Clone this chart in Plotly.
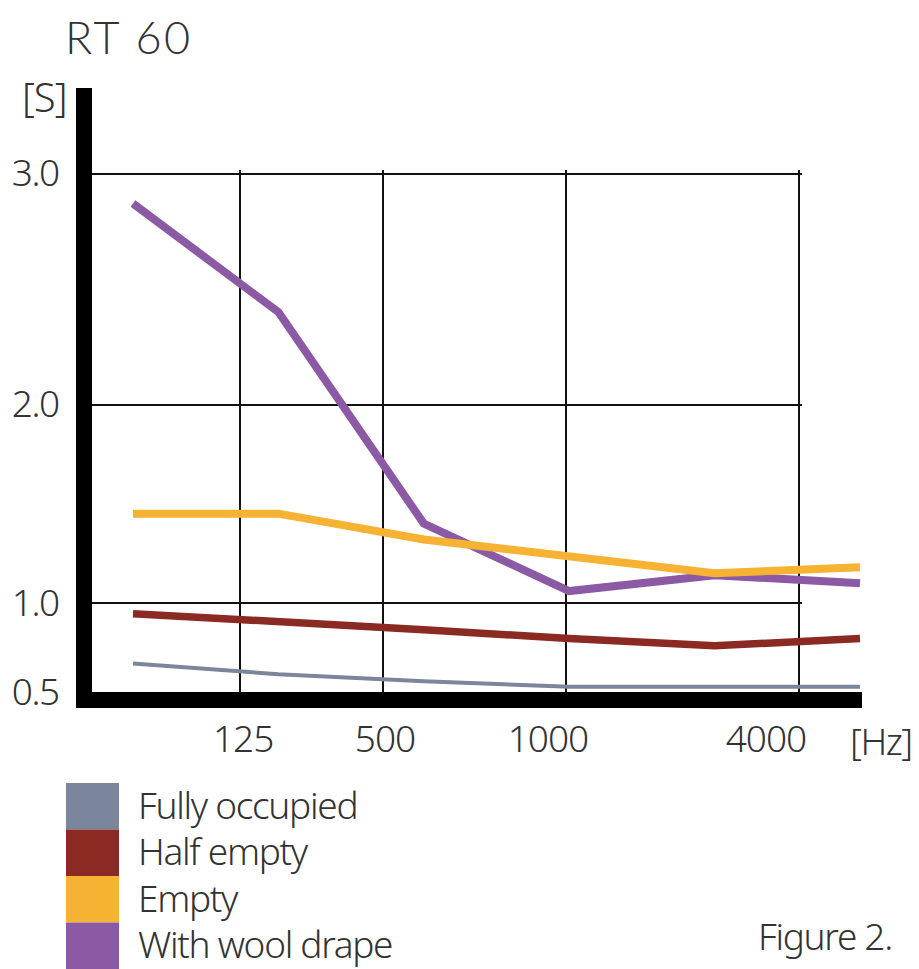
import numpy as np
import plotly.graph_objects as go

# ---------------- data ----------------
series_names = ["Fully occupied", "Half empty", "Empty", "With wool drape"]
series_colors = ["#7B859B", "#8A2A22", "#F6B233", "#8C5AA5"]
band_index = [0, 1, 2, 3, 4, 5]          # measurement bands (equally spaced)
fully_occupied = [0.66, 0.60, 0.56, 0.53, 0.53, 0.53]
half_empty = [0.94, 0.90, 0.85, 0.80, 0.76, 0.80]
empty = [1.45, 1.45, 1.32, 1.24, 1.15, 1.18]
wool_drape = [2.87, 2.40, 1.40, 1.06, 1.14, 1.10]

x_tick_labels = ["125", "500", "1000", "4000"]
y_tick_values = [0.5, 1.0, 2.0, 3.0]
y_tick_labels = ["0.5", "1.0", "2.0", "3.0"]

# ---------------- scales (the original axis is drawn non-uniformly) ----------------
Y_SCALE_VALUES = [0.5, 1.0, 2.0, 3.0]
Y_SCALE_UNITS = [0.0, 89.0, 287.5, 518.5]
def yscale(v):
    return np.interp(v, Y_SCALE_VALUES, Y_SCALE_UNITS)

x_grid_pos = [0.736, 1.719, 2.981, 4.580]     # band-index units of the grid lines
x_label_pos = [0.757, 1.733, 2.854, 4.353]    # band-index units of the labels

# page has an 8px body margin -> figure drawn 8px in from the window corner
OFF = 8
W, H = 919 - OFF, 969 - OFF
def px(x):
    return (x - OFF) / W
def py(y):
    return 1 - (y - OFF) / H

FONT = "Noto Sans, DejaVu Sans Condensed, sans-serif"
TXT = "#333333"
FS = 37
widths = [4, 7.5, 8, 8]
all_series = [fully_occupied, half_empty, empty, wool_drape]

def tight(t, ls=-1.3):
    return '<span style="letter-spacing:%.1fpx">%s</span>' % (ls, t)

def tfont(size=FS):
    return dict(family=FONT, size=size, color=TXT, weight=300)

fig = go.Figure()
# empty trace so the grid subplot is drawn
fig.add_trace(go.Scatter(x=[], y=[], xaxis="x", yaxis="y", hoverinfo="skip", showlegend=False))
order = [0, 1, 3, 2]
for i in order:
    fig.add_trace(go.Scatter(
        x=band_index, y=yscale(all_series[i]), mode="lines",
        name=series_names[i], line=dict(color=series_colors[i], width=widths[i]),
        xaxis="x2", yaxis="y2", hoverinfo="skip", showlegend=False))

xr_lo = (92 - 133) / 145.4
fig.update_layout(
    template="none",
    width=W, height=H, autosize=False,
    margin=dict(l=0, r=0, t=0, b=0, pad=0),
    paper_bgcolor="white", plot_bgcolor="rgba(0,0,0,0)",
    showlegend=False,
    font=tfont(),
    # grid-only axes
    xaxis=dict(domain=[px(92), px(802)], range=[xr_lo, (802 - 133) / 145.4],
               anchor="y", tickmode="array", tickvals=x_grid_pos,
               showticklabels=False, ticks="", showgrid=True, gridcolor="#111111",
               gridwidth=2, zeroline=False, showline=False, fixedrange=True,
               automargin=False),
    yaxis=dict(domain=[py(692), py(170)], range=[0, 522], anchor="x",
               tickmode="array", tickvals=yscale([1.0, 2.0, 3.0]),
               showticklabels=False, ticks="", showgrid=True, gridcolor="#111111",
               gridwidth=2, zeroline=False, showline=False, fixedrange=True,
               automargin=False),
    # data axes
    xaxis2=dict(domain=[px(92), px(862)], range=[xr_lo, (862 - 133) / 145.4],
                anchor="y2", tickmode="array", tickvals=x_label_pos,
                ticktext=[tight(t, -1.0) for t in x_tick_labels],
                ticks="", showgrid=False, zeroline=False, showline=True,
                linecolor="black", linewidth=16, ticklabelstandoff=0,
                tickfont=tfont(), fixedrange=True, automargin=False),
    yaxis2=dict(domain=[py(692), py(88)], range=[0, 604], anchor="x2",
                tickmode="array", tickvals=yscale(y_tick_values),
                ticktext=[tight(t, -1.5) for t in y_tick_labels],
                ticks="", showgrid=False, zeroline=False, showline=True,
                linecolor="black", linewidth=16, ticklabelstandoff=10,
                tickfont=tfont(), fixedrange=True, automargin=False),
)

annotations = [
    dict(text=tight("RT 60", 2.5), x=px(64), y=py(37), xanchor="left", yanchor="middle",
         borderpad=0, font=dict(family="Lato, Inter, sans-serif", size=45, color=TXT, weight=300)),
    dict(text=tight("[S]", -1.0), x=px(44), y=py(96), xanchor="center", yanchor="middle",
         font=tfont(40)),
    dict(text=tight("[Hz]", -1.5), x=px(881), y=py(740), xanchor="center", yanchor="middle",
         font=tfont()),
    dict(text=tight("Figure 2."), x=px(825), y=py(935), xanchor="center", yanchor="middle",
         font=tfont()),
]
shapes = []
box_top, box_h = 783, 46.5
for i, (name, color) in enumerate(zip(series_names, series_colors)):
    y0 = box_top + box_h * i
    shapes.append(dict(type="rect", xref="paper", yref="paper",
                       x0=px(66), x1=px(119), y0=py(y0 + box_h), y1=py(y0),
                       fillcolor=color, line=dict(width=0)))
    annotations.append(dict(text=tight(name), x=px(136), y=py(y0 + box_h / 2 - 2),
                            xanchor="left", yanchor="middle", font=tfont()))
for a in annotations:
    a.update(xref="paper", yref="paper", showarrow=False)
fig.update_layout(annotations=annotations, shapes=shapes)

fig.write_html("out.html")
